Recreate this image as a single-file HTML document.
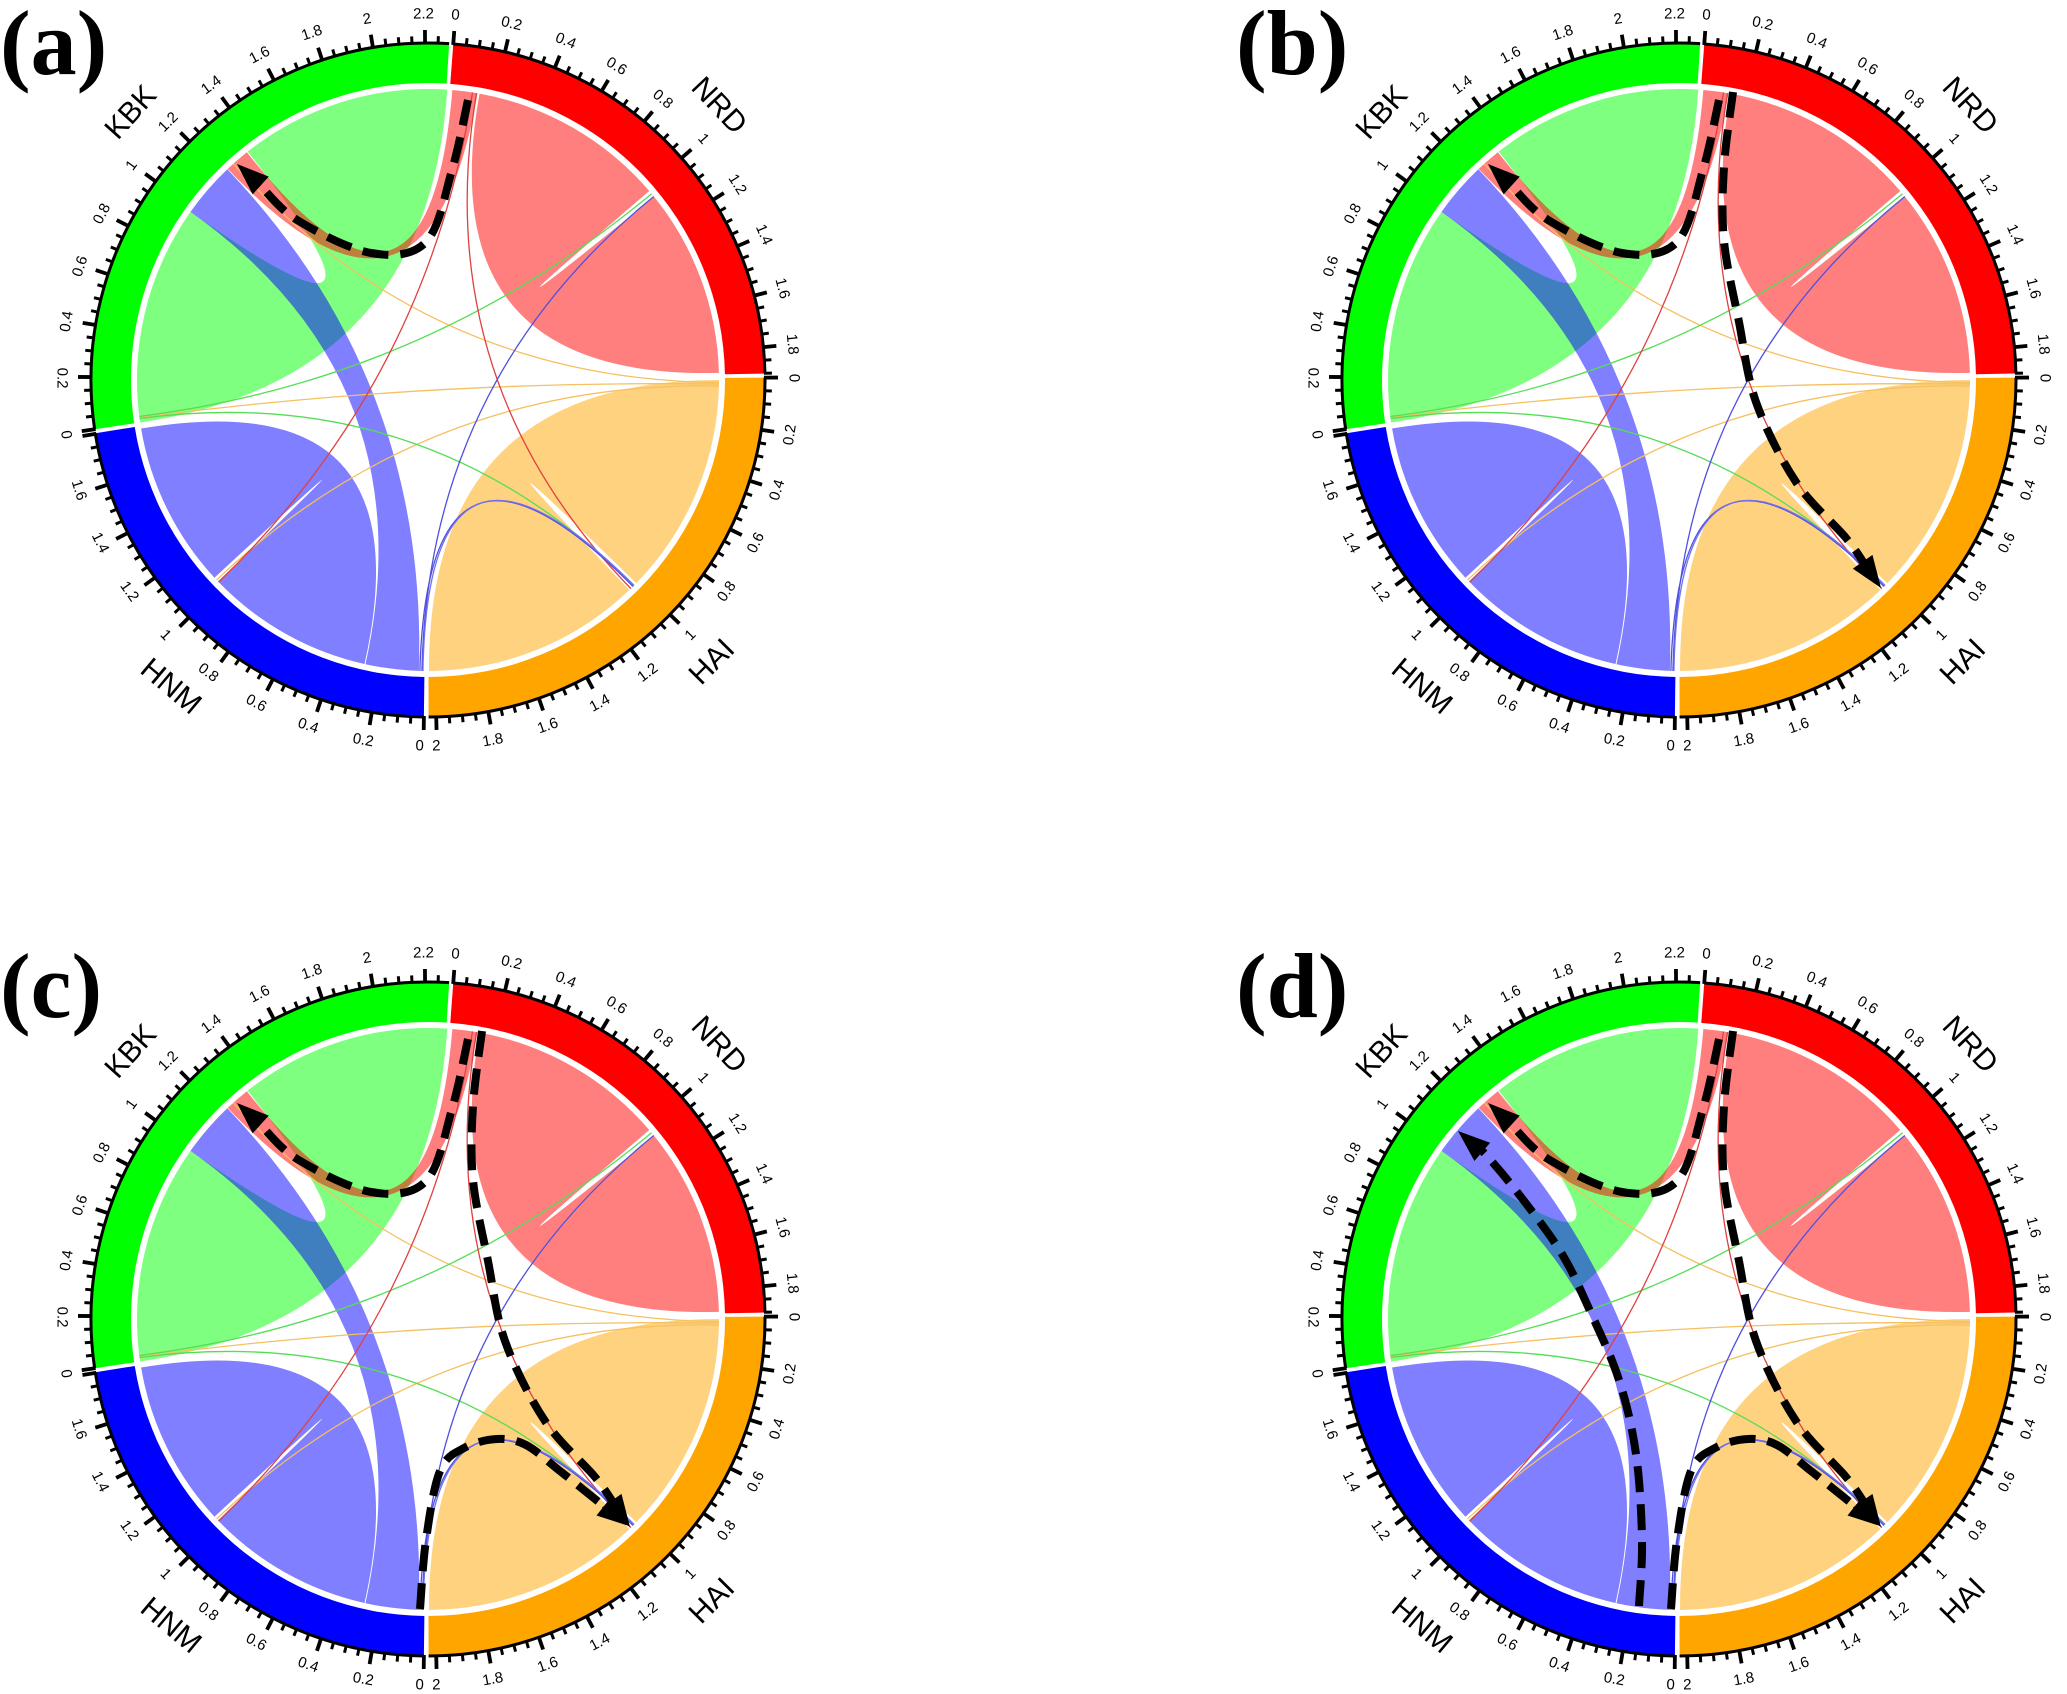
<!DOCTYPE html>
<html><head><meta charset="utf-8">
<style>
html,body{margin:0;padding:0;background:#fff;}
svg{display:block;}
.tl{font-family:"Liberation Sans",sans-serif;font-size:15px;fill:#000;}
.sl{font-family:"Liberation Sans",sans-serif;font-size:30px;fill:#000;}
.pl{font-family:"Liberation Serif",serif;font-size:92px;font-weight:bold;fill:#000;}
</style></head>
<body>
<svg id="svg" width="2067" height="1694" viewBox="0 0 2067 1694" xmlns="http://www.w3.org/2000/svg">
<defs>
<g id="chart">
  <g id="ribbons"></g>
  <g id="thin" fill="none" stroke-width="1.3"></g>
  <g id="ring"></g>
  <g id="ticks" stroke="#000"></g>
  <g class="tl" text-anchor="middle" dominant-baseline="central">
    <text transform="rotate(4.3) translate(0,-366)">0</text>
    <text transform="rotate(13.2) translate(0,-366)">0.2</text>
    <text transform="rotate(22.1) translate(0,-366)">0.4</text>
    <text transform="rotate(31.0) translate(0,-366)">0.6</text>
    <text transform="rotate(39.9) translate(0,-366)">0.8</text>
    <text transform="rotate(48.8) translate(0,-366)">1</text>
    <text transform="rotate(57.7) translate(0,-366)">1.2</text>
    <text transform="rotate(66.6) translate(0,-366)">1.4</text>
    <text transform="rotate(75.5) translate(0,-366)">1.6</text>
    <text transform="rotate(84.4) translate(0,-366)">1.8</text>
    <text transform="rotate(89.7) translate(0,-366)">0</text>
    <text transform="rotate(98.6) translate(0,-366) rotate(180)">0.2</text>
    <text transform="rotate(107.5) translate(0,-366) rotate(180)">0.4</text>
    <text transform="rotate(116.4) translate(0,-366) rotate(180)">0.6</text>
    <text transform="rotate(125.3) translate(0,-366) rotate(180)">0.8</text>
    <text transform="rotate(134.2) translate(0,-366) rotate(180)">1</text>
    <text transform="rotate(143.1) translate(0,-366) rotate(180)">1.2</text>
    <text transform="rotate(152.0) translate(0,-366) rotate(180)">1.4</text>
    <text transform="rotate(160.9) translate(0,-366) rotate(180)">1.6</text>
    <text transform="rotate(169.8) translate(0,-366) rotate(180)">1.8</text>
    <text transform="rotate(178.7) translate(0,-366) rotate(180)">2</text>
    <text transform="rotate(181.3) translate(0,-366) rotate(180)">0</text>
    <text transform="rotate(190.2) translate(0,-366) rotate(180)">0.2</text>
    <text transform="rotate(199.1) translate(0,-366) rotate(180)">0.4</text>
    <text transform="rotate(208.0) translate(0,-366) rotate(180)">0.6</text>
    <text transform="rotate(216.9) translate(0,-366) rotate(180)">0.8</text>
    <text transform="rotate(225.8) translate(0,-366) rotate(180)">1</text>
    <text transform="rotate(234.7) translate(0,-366) rotate(180)">1.2</text>
    <text transform="rotate(243.6) translate(0,-366) rotate(180)">1.4</text>
    <text transform="rotate(252.5) translate(0,-366) rotate(180)">1.6</text>
    <text transform="rotate(261.4) translate(0,-366) rotate(180)">0</text>
    <text transform="rotate(270.3) translate(0,-366) rotate(180)">0.2</text>
    <text transform="rotate(279.2) translate(0,-366)">0.4</text>
    <text transform="rotate(288.1) translate(0,-366)">0.6</text>
    <text transform="rotate(297.0) translate(0,-366)">0.8</text>
    <text transform="rotate(305.9) translate(0,-366)">1</text>
    <text transform="rotate(314.8) translate(0,-366)">1.2</text>
    <text transform="rotate(323.7) translate(0,-366)">1.4</text>
    <text transform="rotate(332.6) translate(0,-366)">1.6</text>
    <text transform="rotate(341.5) translate(0,-366)">1.8</text>
    <text transform="rotate(350.4) translate(0,-366)">2</text>
    <text transform="rotate(359.3) translate(0,-366)">2.2</text>
  </g>
  <g class="sl" text-anchor="middle" dominant-baseline="central">
    <text transform="rotate(46.7) translate(0,-400)">NRD</text>
    <text transform="rotate(134.8) translate(0,-400) rotate(180)">HAI</text>
    <text transform="rotate(220) translate(0,-400) rotate(180)">HNM</text>
    <text transform="rotate(312) translate(0,-400)">KBK</text>
  </g>
</g>
</defs>

<use href="#chart" transform="translate(428,380)"/>
<use href="#chart" transform="translate(1679,380)"/>
<use href="#chart" transform="translate(428,1319)"/>
<use href="#chart" transform="translate(1679,1319)"/>

<g id="arrA" transform="translate(428,380)"></g>
<g id="arrB" transform="translate(1679,380)"></g>
<g id="arrC" transform="translate(428,1319)"></g>
<g id="arrD" transform="translate(1679,1319)"></g>

<text class="pl" x="0" y="74">(a)</text>
<text class="pl" x="1236" y="74">(b)</text>
<text class="pl" x="0" y="1017">(c)</text>
<text class="pl" x="1236" y="1017">(d)</text>
</svg>
<script>
(function(){
var NS="http://www.w3.org/2000/svg";
function el(tag,attrs,parent){var e=document.createElementNS(NS,tag);for(var k in attrs)e.setAttribute(k,attrs[k]);parent.appendChild(e);return e;}
function P(a,r){var t=a*Math.PI/180;return [r*Math.sin(t),-r*Math.cos(t)];}
function f(p){return p[0].toFixed(2)+","+p[1].toFixed(2);}
function arc(a1,a2,r,sw){var p=P(a2,r);return "A"+r+","+r+" 0 "+(Math.abs(a2-a1)>180?1:0)+" "+(sw===undefined?1:sw)+" "+f(p);}
var R=291,RO=336,RI=297;
function ribbon(a1,a2,b1,b2){return "M"+f(P(a1,R))+arc(a1,a2,R)+"Q0,0 "+f(P(b1,R))+arc(b1,b2,R)+"Q0,0 "+f(P(a1,R))+"Z";}
var rib=document.getElementById("ribbons");
var RED="rgba(255,0,0,0.5)",ORG="rgba(255,165,0,0.5)",BLU="rgba(0,0,255,0.5)",GRN="rgba(0,255,0,0.5)";
[[10.2,49.5,51,88.6,RED],[90.0,134.3,136.2,179.8,ORG],[192.6,226.2,227.2,260.4,BLU],[261.6,305.3,321.7,363.8,GRN],
 [181.8,192.4,305.3,316.4,BLU],[316.5,321.5,364.8,369.8,RED]].forEach(function(r){
  el("path",{d:ribbon(r[0],r[1],r[2],r[3]),fill:r[4]},rib);
});
var thin=document.getElementById("thin");
[[90.5,318,"#f5c060"],[90.8,262.6,"#f5c060"],[91.2,226.6,"#f5c060"],[262.8,50.2,"#55dd55"],[262.4,135.0,"#55dd55"],
 [9.6,135.8,"#e04040"],[8.8,226.0,"#e04040"],[50.9,181.2,"#5050e0"],[135.2,181.6,"#5050e0"],[134.9,181.0,"#7070f0"]].forEach(function(t){
  el("path",{d:"M"+f(P(t[0],R))+"Q0,0 "+f(P(t[1],R)),stroke:t[2]},thin);
});
var ring=document.getElementById("ring");
var secs=[[4.3,88.9,"#ff0000"],[89.6,179.9,"#ffa500"],[180.7,260.9,"#0000ff"],[261.6,363.6,"#00ff00"]];
secs.forEach(function(s){
  var d="M"+f(P(s[0],RO))+arc(s[0],s[1],RO)+"L"+f(P(s[1],RI))+arc(s[1],s[0],RI,0)+"Z";
  el("path",{d:d,fill:s[2]},ring);
});
var tk=document.getElementById("ticks");
secs.forEach(function(s){
  el("path",{d:"M"+f(P(s[0],RO+1))+arc(s[0],s[1],RO+1),fill:"none","stroke-width":3},tk);
  var n=Math.floor((s[1]-s[0])/(44.5*0.05)+1e-6);
  for(var i=0;i<=n;i++){
    var a=s[0]+i*44.5*0.05;var maj=(i%4==0);var L=maj?14:8;
    el("line",{x1:P(a,RO)[0],y1:P(a,RO)[1],x2:P(a,RO+L)[0],y2:P(a,RO+L)[1],"stroke-width":maj?3.8:3},tk);
  }
});
function cr(pts){var d="M"+f(pts[0]);for(var i=0;i<pts.length-1;i++){var p0=pts[i-1]||pts[i],p1=pts[i],p2=pts[i+1],p3=pts[i+2]||p2;
  var c1=[p1[0]+(p2[0]-p0[0])/6,p1[1]+(p2[1]-p0[1])/6],c2=[p2[0]-(p3[0]-p1[0])/6,p2[1]-(p3[1]-p1[1])/6];
  d+="C"+f(c1)+" "+f(c2)+" "+f(p2);}return d;}
function arrow(g,pts,tip){
  var last=pts[pts.length-1];var dx=tip[0]-last[0],dy=tip[1]-last[1];var l=Math.sqrt(dx*dx+dy*dy);dx/=l;dy/=l;
  var base=[tip[0]-dx*32,tip[1]-dy*32];
  var all=pts.concat([[tip[0]-dx*24,tip[1]-dy*24]]);
  el("path",{d:cr(all),fill:"none",stroke:"#000","stroke-width":8,"stroke-dasharray":"26 12"},g);
  el("path",{d:"M"+f(tip)+"L"+f([base[0]-dy*12,base[1]+dx*12])+"L"+f([base[0]+dy*12,base[1]-dx*12])+"Z",fill:"#000"},g);
}
var p1=[[40,-280],[24,-210],[-2,-138],[-57,-127],[-131,-160],[-169,-196]],t1=[-191,-216];
var p2=[[54,-288],[45,-213],[45,-139],[60,-58],[77,22],[117,102],[167,158]],t2=[202,208];
var p3=[[-8,290],[-2,221],[12,152],[36,129],[69,120],[98,126],[132,152],[162,176]],t3=[201,207];
var p4=[[-40,287],[-37,221],[-43,135],[-60,61],[-89,-8],[-117,-65],[-158,-122],[-192,-163]],t4=[-221,-188];
var A=document.getElementById("arrA"),B=document.getElementById("arrB"),C=document.getElementById("arrC"),D=document.getElementById("arrD");
arrow(A,p1,t1);
arrow(B,p1,t1);arrow(B,p2,t2);
arrow(C,p1,t1);arrow(C,p2,t2);arrow(C,p3,t3);
arrow(D,p1,t1);arrow(D,p2,t2);arrow(D,p3,t3);arrow(D,p4,t4);
})();
</script>
</body></html>
